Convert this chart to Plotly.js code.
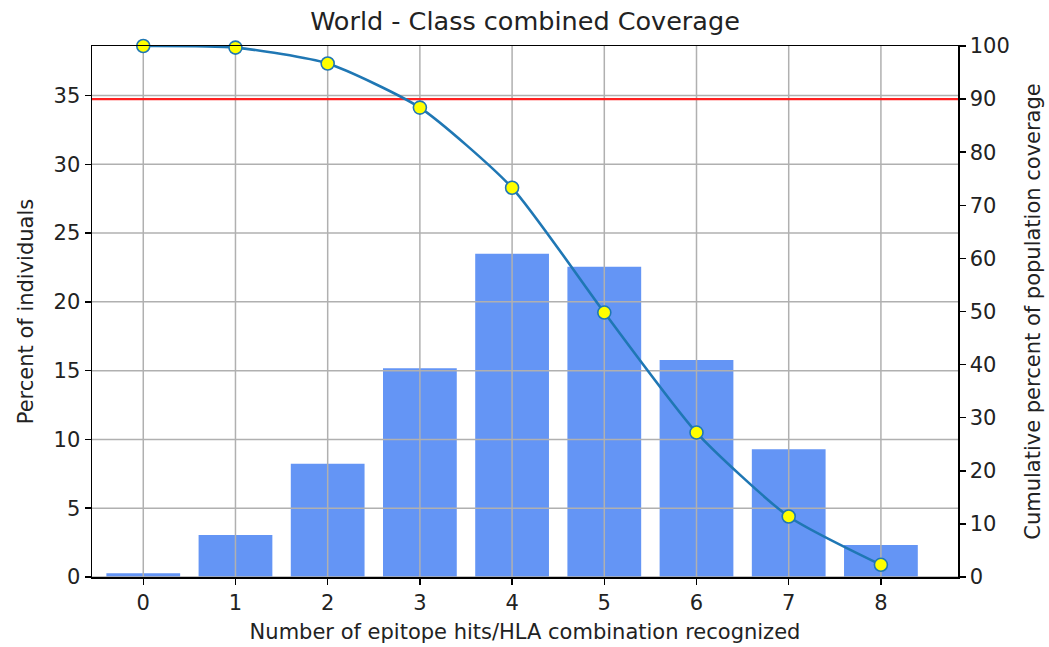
<!DOCTYPE html>
<html>
<head>
<meta charset="utf-8">
<script src="https://cdn.plot.ly/plotly-3.0.1.min.js"></script>
<style>html,body{margin:0;padding:0;background:#fff;}#chart{width:1049px;height:647px;}</style>
</head>
<body>
<div id="chart"></div>
<script>
// Data
const hits = [0, 1, 2, 3, 4, 5, 6, 7, 8];
const percentIndividuals = [0.27, 3.05, 8.24, 15.18, 23.5, 22.55, 15.78, 9.28, 2.32];
const cumulativeCoverage = [100, 99.7, 96.7, 88.4, 73.3, 49.8, 27.2, 11.4, 2.3];
const leftTicks = [0, 5, 10, 15, 20, 25, 30, 35];
const rightTicks = [0, 10, 20, 30, 40, 50, 60, 70, 80, 90, 100];
const threshold = 90;

const xRange = [-0.556, 8.836];
const yRange = [0, 38.6];
const y2Range = [0, 100];
const gridColor = '#b0b0b0';
const font = 'DejaVu Sans, sans-serif';
const fs = 21;

// gridlines drawn above bars (as in reference)
const gx = [], gy = [];
hits.forEach(h => { gx.push(h, h, null); gy.push(yRange[0], yRange[1], null); });
leftTicks.forEach(t => { gx.push(xRange[0], xRange[1], null); gy.push(t, t, null); });

const traces = [
  {
    type: 'bar', x: hits, y: percentIndividuals, width: 0.8,
    marker: {color: '#6495f5', line: {width: 0}},
    xaxis: 'x', yaxis: 'y', hoverinfo: 'x+y', showlegend: false
  },
  {
    type: 'scatter', mode: 'lines', x: gx, y: gy,
    line: {color: gridColor, width: 1.5}, xaxis: 'x', yaxis: 'y',
    hoverinfo: 'skip', showlegend: false, connectgaps: false
  },
  {
    type: 'scatter', mode: 'lines', x: xRange, y: [threshold, threshold],
    line: {color: '#ff2020', width: 2.2}, xaxis: 'x', yaxis: 'y2',
    hoverinfo: 'skip', showlegend: false
  },
  {
    type: 'scatter', mode: 'lines+markers', x: hits, y: cumulativeCoverage,
    line: {color: '#1f77b4', width: 2.6, shape: 'spline', smoothing: 0.6},
    marker: {color: '#ffff00', size: 13, line: {color: '#1f77b4', width: 1.6}},
    xaxis: 'x', yaxis: 'y2', cliponaxis: false, showlegend: false
  }
];

const layout = {
  width: 1049, height: 647,
  margin: {l: 92, r: 91, t: 46, b: 70},
  paper_bgcolor: '#fff', plot_bgcolor: '#fff',
  font: {family: font, color: '#222', size: fs},
  title: {text: 'World - Class combined Coverage', x: 0.5, xref: 'paper', xanchor: 'center',
          y: 0.968, yref: 'container', yanchor: 'middle', font: {size: 25.5, family: font, color: '#222'}},
  xaxis: {
    range: xRange, tickvals: hits, ticktext: hits.map(String),
    showgrid: false, zeroline: false,
    showline: true, linecolor: '#000', linewidth: 1.5, mirror: true,
    ticks: 'outside', ticklen: 6, tickwidth: 1.5, tickcolor: '#000',
    tickfont: {size: fs, family: font, color: '#222'},
    title: {text: 'Number of epitope hits/HLA combination recognized', standoff: 10,
            font: {size: fs, family: font, color: '#222'}}
  },
  yaxis: {
    range: yRange, tickvals: leftTicks, ticktext: leftTicks.map(String),
    showgrid: false, zeroline: false,
    showline: true, linecolor: '#000', linewidth: 1.5,
    ticks: 'outside', ticklen: 6, tickwidth: 1.5, tickcolor: '#000',
    tickfont: {size: fs, family: font, color: '#222'},
    title: {text: 'Percent of individuals', standoff: 14,
            font: {size: fs, family: font, color: '#222'}}
  },
  yaxis2: {
    range: y2Range, tickvals: rightTicks, ticktext: rightTicks.map(String),
    overlaying: 'y', side: 'right', anchor: 'x',
    showgrid: false, zeroline: false,
    showline: true, linecolor: '#000', linewidth: 1.5,
    ticks: 'outside', ticklen: 6, tickwidth: 1.5, tickcolor: '#000',
    tickfont: {size: fs, family: font, color: '#222'},
    title: {text: 'Cumulative percent of population coverage', standoff: 16,
            font: {size: fs, family: font, color: '#222'}}
  },
  showlegend: false,
  bargap: 0.2
};

Plotly.newPlot('chart', traces, layout, {displayModeBar: false, staticPlot: true});
</script>
</body>
</html>
